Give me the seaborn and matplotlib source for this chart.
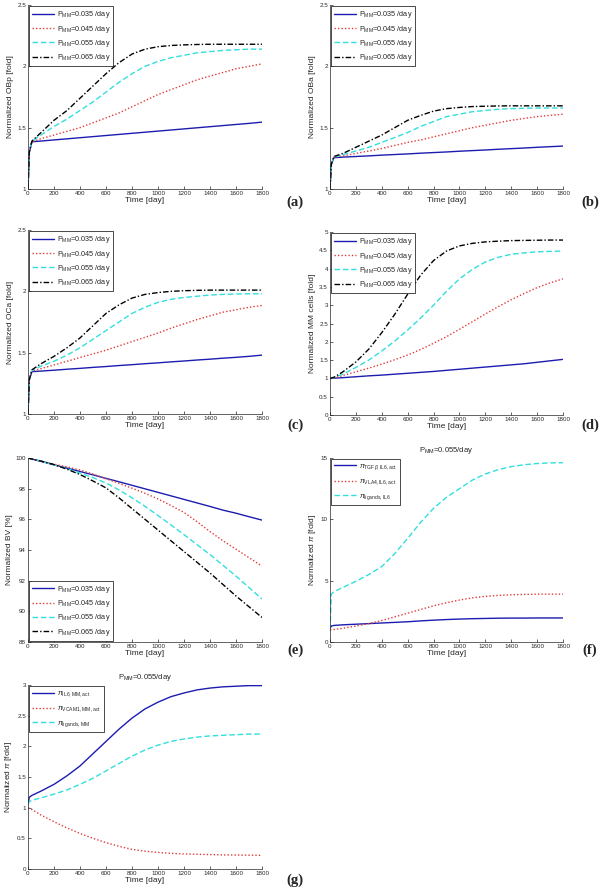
import pandas as pd
import seaborn as sns
import matplotlib
matplotlib.use('Agg')
import matplotlib.pyplot as plt

# time points (days)
days = [0, 10, 30, 100, 200, 300, 400, 500, 600, 700, 800, 900,
        1000, 1100, 1200, 1300, 1400, 1500, 1600, 1700, 1800]

# (a) OBp
obp_035 = [1.0, 1.30, 1.385, 1.391, 1.400, 1.409, 1.418, 1.427, 1.436, 1.445, 1.454,
           1.463, 1.472, 1.481, 1.490, 1.499, 1.508, 1.517, 1.526, 1.535, 1.545]
obp_045 = [1.0, 1.30, 1.385, 1.41, 1.44, 1.47, 1.50, 1.54, 1.58, 1.62, 1.67,
           1.72, 1.77, 1.81, 1.85, 1.89, 1.92, 1.95, 1.98, 2.00, 2.02]
obp_055 = [1.0, 1.30, 1.39, 1.44, 1.51, 1.57, 1.64, 1.71, 1.79, 1.87, 1.94,
           2.00, 2.04, 2.07, 2.09, 2.11, 2.12, 2.13, 2.135, 2.14, 2.14]
obp_065 = [1.0, 1.30, 1.39, 1.46, 1.56, 1.64, 1.74, 1.84, 1.94, 2.03, 2.10,
           2.14, 2.16, 2.17, 2.175, 2.178, 2.18, 2.18, 2.18, 2.18, 2.18]

# (b) OBa
oba_035 = [1.0, 1.20, 1.255, 1.26, 1.265, 1.27, 1.276, 1.281, 1.286, 1.292, 1.297,
           1.302, 1.308, 1.313, 1.318, 1.324, 1.329, 1.334, 1.34, 1.345, 1.35]
oba_045 = [1.0, 1.20, 1.26, 1.27, 1.29, 1.31, 1.33, 1.355, 1.38, 1.40, 1.425,
           1.45, 1.475, 1.50, 1.52, 1.54, 1.56, 1.575, 1.59, 1.60, 1.61]
oba_055 = [1.0, 1.20, 1.26, 1.28, 1.31, 1.34, 1.38, 1.42, 1.46, 1.51, 1.55,
           1.59, 1.61, 1.63, 1.64, 1.65, 1.655, 1.658, 1.66, 1.66, 1.66]
oba_065 = [1.0, 1.20, 1.265, 1.29, 1.34, 1.39, 1.44, 1.50, 1.56, 1.60, 1.635,
           1.655, 1.665, 1.672, 1.675, 1.677, 1.678, 1.678, 1.678, 1.678, 1.678]

# (c) OCa
oca_035 = [1.0, 1.28, 1.345, 1.35, 1.357, 1.365, 1.372, 1.38, 1.387, 1.395, 1.402,
           1.41, 1.417, 1.425, 1.432, 1.44, 1.447, 1.455, 1.462, 1.47, 1.48]
oca_045 = [1.0, 1.28, 1.35, 1.37, 1.40, 1.43, 1.46, 1.49, 1.52, 1.555, 1.59,
           1.625, 1.66, 1.70, 1.735, 1.77, 1.80, 1.83, 1.85, 1.87, 1.885]
oca_055 = [1.0, 1.28, 1.355, 1.39, 1.43, 1.48, 1.54, 1.61, 1.68, 1.75, 1.82,
           1.87, 1.91, 1.935, 1.95, 1.96, 1.97, 1.975, 1.978, 1.98, 1.98]
oca_065 = [1.0, 1.28, 1.36, 1.41, 1.47, 1.54, 1.62, 1.72, 1.82, 1.89, 1.945,
           1.975, 1.99, 2.0, 2.005, 2.008, 2.01, 2.01, 2.01, 2.01, 2.01]

# (d) MM cells
mm_035 = [1.0, 1.0, 1.005, 1.02, 1.045, 1.07, 1.09, 1.115, 1.14, 1.165, 1.19,
          1.22, 1.25, 1.28, 1.31, 1.34, 1.37, 1.40, 1.44, 1.48, 1.52]
mm_045 = [1.0, 1.0, 1.01, 1.08, 1.18, 1.28, 1.39, 1.51, 1.64, 1.79, 1.96,
          2.14, 2.34, 2.55, 2.76, 2.96, 3.15, 3.32, 3.48, 3.61, 3.72]
mm_055 = [1.0, 1.005, 1.02, 1.12, 1.30, 1.50, 1.75, 2.02, 2.32, 2.65, 3.0,
          3.38, 3.72, 3.98, 4.18, 4.31, 4.39, 4.43, 4.46, 4.47, 4.48]
mm_065 = [1.0, 1.01, 1.03, 1.18, 1.45, 1.80, 2.25, 2.75, 3.30, 3.82, 4.22,
          4.48, 4.62, 4.69, 4.73, 4.75, 4.765, 4.77, 4.775, 4.78, 4.78]

# (e) BV
bv_035 = [100, 99.98, 99.93, 99.78, 99.56, 99.34, 99.12, 98.9, 98.67, 98.45, 98.22,
          97.99, 97.76, 97.53, 97.3, 97.07, 96.84, 96.6, 96.4, 96.17, 95.95]
bv_045 = [100, 99.98, 99.93, 99.8, 99.6, 99.42, 99.22, 98.95, 98.65, 98.35, 98.03,
          97.7, 97.33, 96.9, 96.45, 95.85, 95.2, 94.6, 94.05, 93.5, 92.95]
bv_055 = [100, 99.98, 99.93, 99.8, 99.55, 99.3, 99.02, 98.72, 98.37, 97.92, 97.4,
          96.85, 96.25, 95.63, 95.0, 94.35, 93.7, 93.0, 92.3, 91.55, 90.8]
bv_065 = [100, 99.98, 99.93, 99.8, 99.57, 99.27, 98.92, 98.5, 98.05, 97.4, 96.7,
          96.0, 95.3, 94.6, 93.9, 93.2, 92.5, 91.75, 91.0, 90.3, 89.6]

# (f) pi, IL6
pi_tgfb_il6 = [1.1, 1.3, 1.35, 1.4, 1.45, 1.5, 1.55, 1.6, 1.65, 1.72, 1.78,
               1.83, 1.87, 1.9, 1.92, 1.94, 1.95, 1.95, 1.96, 1.96, 1.96]
pi_vla4_il6 = [1.0, 1.0, 1.02, 1.12, 1.3, 1.5, 1.75, 2.05, 2.35, 2.65, 2.95,
               3.2, 3.42, 3.6, 3.72, 3.8, 3.85, 3.88, 3.9, 3.9, 3.9]
pi_lig_il6 = [1.0, 3.9, 4.1, 4.45, 4.95, 5.5, 6.15, 7.2, 8.45, 9.75, 10.9,
              11.8, 12.5, 13.2, 13.7, 14.05, 14.3, 14.45, 14.55, 14.6, 14.62]

# (g) pi, MM
pi_il6_mm = [1.05, 1.17, 1.20, 1.27, 1.38, 1.52, 1.68, 1.88, 2.08, 2.28, 2.46,
             2.61, 2.72, 2.81, 2.87, 2.92, 2.95, 2.97, 2.98, 2.99, 2.99]
pi_vcam_mm = [1.0, 0.99, 0.97, 0.88, 0.77, 0.67, 0.58, 0.50, 0.43, 0.37, 0.32,
              0.29, 0.27, 0.255, 0.245, 0.24, 0.235, 0.23, 0.228, 0.225, 0.223]
pi_lig_mm = [1.05, 1.10, 1.12, 1.16, 1.22, 1.29, 1.38, 1.48, 1.60, 1.72, 1.84,
             1.94, 2.02, 2.08, 2.12, 2.15, 2.17, 2.18, 2.19, 2.20, 2.20]

pmm_labels = ['P$_{\\mathregular{MM}}$=0.035 /day', 'P$_{\\mathregular{MM}}$=0.045 /day',
              'P$_{\\mathregular{MM}}$=0.055 /day', 'P$_{\\mathregular{MM}}$=0.065 /day']
il6_labels = [r'$\pi_{\mathregular{TGF}\beta\mathregular{,IL6,act}}$',
              r'$\pi_{\mathregular{VLA4,IL6,act}}$',
              r'$\pi_{\mathregular{ligands,IL6}}$']
mm_labels = [r'$\pi_{\mathregular{IL6,MM,act}}$',
             r'$\pi_{\mathregular{VCAM1,MM,act}}$',
             r'$\pi_{\mathregular{ligands,MM}}$']

colors = ['#1c1cb0', '#e23a3a', '#33dede', '#000000']
dashes = ['', (1, 1.5), (4, 2), (4, 1.5, 1, 1.5)]

sns.set_style('ticks', {'xtick.direction': 'in', 'ytick.direction': 'in'})
plt.rcParams['font.family'] = ['Liberation Sans', 'DejaVu Sans']
plt.rcParams['mathtext.fontset'] = 'custom'
plt.rcParams['mathtext.rm'] = 'Liberation Sans'
plt.rcParams['mathtext.it'] = 'Liberation Sans:italic'
plt.rcParams['mathtext.bf'] = 'Liberation Sans:bold'

fig = plt.figure(figsize=(6.04, 8.93), dpi=100)

W, H = 604, 893


def make_ax(x0, x1, y0, y1):
    return fig.add_axes([x0 / W, 1 - y1 / H, (x1 - x0) / W, (y1 - y0) / H])


def panel(ax, series, labels, ylabel, yticks, legend_loc, title=None, spacing=0.45):
    n = len(series)
    df = pd.concat([pd.DataFrame({'Time': days, 'value': s, 'series': lab})
                    for s, lab in zip(series, labels)], ignore_index=True)
    sns.lineplot(data=df, x='Time', y='value', hue='series', style='series',
                 hue_order=labels, style_order=labels, palette=colors[:n],
                 dashes=dashes[:n], linewidth=1.0, legend=False,
                 estimator=None, ax=ax)
    leg = ax.legend(ax.get_lines()[:n], labels, loc=legend_loc, fontsize=5.2,
                    frameon=True, fancybox=False, framealpha=1, edgecolor='black',
                    borderpad=0.4, labelspacing=spacing, handlelength=3.0,
                    handletextpad=0.4, borderaxespad=0.2)
    leg.get_frame().set_linewidth(0.5)
    ax.set_xlim(0, 1800)
    ax.set_xticks(range(0, 2000, 200))
    ax.set_ylim(yticks[0], yticks[-1])
    ax.set_yticks(yticks)
    ax.set_yticklabels(['%g' % v for v in yticks])
    ax.set_xlabel('Time [day]', fontsize=6, labelpad=1)
    ax.set_ylabel(ylabel, fontsize=6, labelpad=2)
    ax.tick_params(labelsize=4.5, length=2, width=0.5, pad=1.5)
    for sp in ax.spines.values():
        sp.set_linewidth(0.5)
    sns.despine(ax=ax)
    if title:
        ax.set_title(title, fontsize=5.5, pad=4)


ax = make_ax(28, 262, 5, 189)
panel(ax, [obp_035, obp_045, obp_055, obp_065], pmm_labels,
      'Normalized OBp [fold]', [1, 1.5, 2, 2.5], 'upper left')
ax = make_ax(330, 563, 5, 189)
panel(ax, [oba_035, oba_045, oba_055, oba_065], pmm_labels,
      'Normalized OBa [fold]', [1, 1.5, 2, 2.5], 'upper left')
ax = make_ax(28, 262, 230, 414)
panel(ax, [oca_035, oca_045, oca_055, oca_065], pmm_labels,
      'Normalized OCa [fold]', [1, 1.5, 2, 2.5], 'upper left')
ax = make_ax(330, 563, 232, 415)
panel(ax, [mm_035, mm_045, mm_055, mm_065], pmm_labels,
      'Normalized MM cells [fold]', [0, 0.5, 1, 1.5, 2, 2.5, 3, 3.5, 4, 4.5, 5], 'upper left')
ax = make_ax(28, 262, 458, 642)
panel(ax, [bv_035, bv_045, bv_055, bv_065], pmm_labels,
      'Normalized BV [%]', [88, 90, 92, 94, 96, 98, 100], 'lower left')
ax = make_ax(330, 563, 458, 642)
panel(ax, [pi_tgfb_il6, pi_vla4_il6, pi_lig_il6], il6_labels,
      r'Normalized $\pi$ [fold]', [0, 5, 10, 15], 'upper left',
      title='P$_{\\mathregular{MM}}$=0.055/day', spacing=0.7)
ax = make_ax(28, 262, 685, 869)
panel(ax, [pi_il6_mm, pi_vcam_mm, pi_lig_mm], mm_labels,
      r'Normalized $\pi$ [fold]', [0, 0.5, 1, 1.5, 2, 2.5, 3], 'upper left',
      title='P$_{\\mathregular{MM}}$=0.055/day', spacing=0.7)

letters = [('(a)', 295, 202), ('(b)', 590, 202), ('(c)', 295, 425), ('(d)', 590, 425),
           ('(e)', 295, 650), ('(f)', 590, 650), ('(g)', 295, 880)]
for txt, x, y in letters:
    fig.text(x / W, 1 - y / H, txt, fontfamily='Liberation Serif', fontweight='bold',
             fontsize=10.5, ha='center', va='center')

fig.savefig('out.png', dpi=100)
